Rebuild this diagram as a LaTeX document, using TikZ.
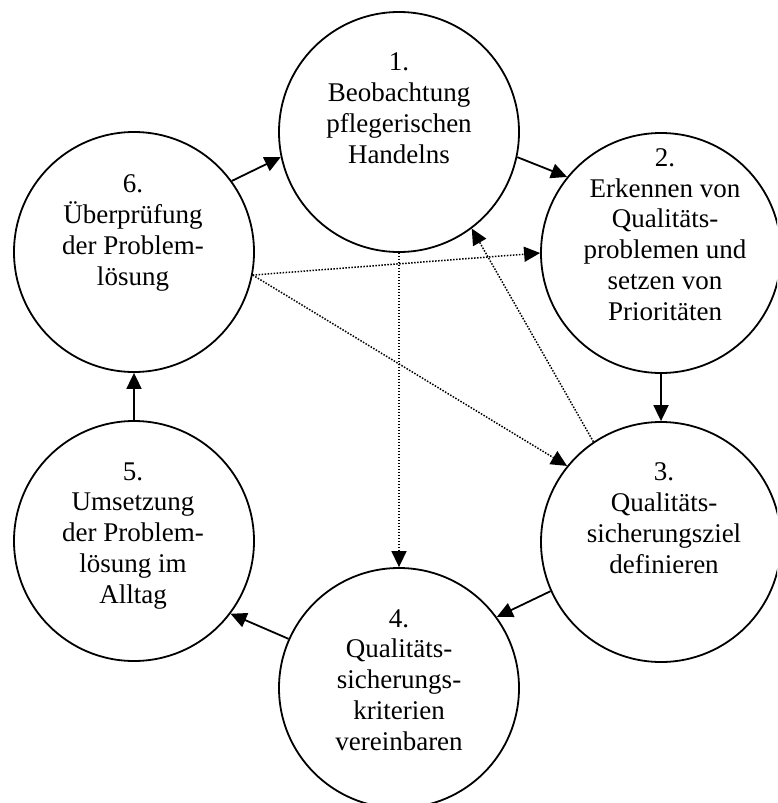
\documentclass[tikz,border=0pt]{standalone}
\usepackage{fontspec}
\setmainfont{Liberation Serif}
\usetikzlibrary{arrows.meta}
\begin{document}
\begin{tikzpicture}[x=1pt,y=-1pt,
  circ/.style={circle,draw,line width=1.8pt,minimum size=240pt,inner sep=0pt},
  lbl/.style={align=center,inner sep=0pt,anchor=base,font=\fontsize{27}{30.7}\selectfont},
  flow/.style={line width=1.8pt,-{Triangle[length=16pt,width=15pt]}},
  hint/.style={line width=1.5pt,dash pattern=on 1.5pt off 1.5pt,-{Triangle[length=16pt,width=15pt]}}]
\useasboundingbox (0,0) rectangle (777,803);
\clip (0,0) rectangle (777,803);
\node[circ] (c1) at (399,132) {};
\node[circ] (c2) at (661,253) {};
\node[circ] (c3) at (661,542) {};
\node[circ] (c4) at (399,688) {};
\node[circ] (c5) at (134,541) {};
\node[circ] (c6) at (134,252) {};
\node[lbl] (t1) at (399,163) {1.\\Beobachtung\\pflegerischen\\Handelns};
\node[lbl] (t2) at (665,320) {2.\\Erkennen von\\Qualitäts-\\problemen und\\setzen von\\Prioritäten};
\node[lbl] (t3) at (664,573) {3.\\Qualitäts-\\sicherungsziel\\definieren};
\node[lbl] (t4) at (399,750) {4.\\Qualitäts-\\sicherungs-\\kriterien\\vereinbaren};
\node[lbl] (t5) at (133,603) {5.\\Umsetzung\\der Problem-\\lösung im\\Alltag};
\node[lbl] (t6) at (133,285) {6.\\Überprüfung\\der Problem-\\lösung};
\draw[flow] (c1.-12) -- (c2.141.6);
\draw[flow] (c2.south) -- (c3.north);
\draw[flow] (c3.204.8) -- (c4.36.7);
\draw[flow] (c4.156) -- (c5.-37.8);
\draw[flow] (c5.north) -- (c6.south);
\draw[flow] (c6.36.6) -- (c1.192);
\draw[hint] (c6.-11.8) -- (c2.west);
\draw[hint] (c6.-11.8) -- (c3.141.9);
\draw[hint] (c3.124.5) -- (c1.-53.3);
\draw[hint] (c1.south) -- (c4.north);
\end{tikzpicture}
\end{document}
